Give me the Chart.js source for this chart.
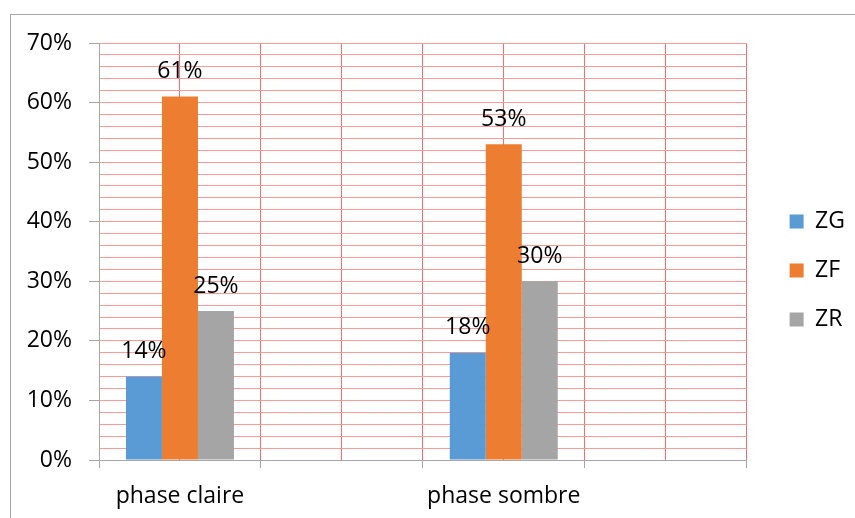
<!DOCTYPE html>
<html>
<head>
<meta charset="utf-8">
<script src="https://cdn.jsdelivr.net/npm/chart.js@4.4.1/dist/chart.umd.min.js"></script>
<style>
  html, body { margin: 0; padding: 0; background: #fff; }
  #wrap { position: relative; width: 855px; height: 518px; overflow: hidden; }
  #frame { position: absolute; left: 10px; top: 14px; width: 900px; height: 600px;
           border-left: 1px solid #a6a6a6; border-top: 1px solid #a6a6a6; pointer-events: none; }
</style>
</head>
<body>
<div id="wrap">
  <canvas id="myChart" width="855" height="518"></canvas>
  <div id="frame"></div>
</div>
<script>
// categories on the x axis (two empty slots keep the grid wide)
const categories = ['phase claire', '', 'phase sombre', ''];
// percentages per zone
const zg = [14, null, 18, null];
const zf = [61, null, 53, null];
const zr = [25, null, 30, null];

const txtFont = { family: '"Open Sans"', size: 23 };
Chart.defaults.font.family = '"Open Sans"';
Chart.defaults.font.size = 23;
Chart.defaults.color = '#000';

// writes "xx%" above every bar
const valueLabels = {
  id: 'valueLabels',
  afterDatasetsDraw(chart) {
    const ctx = chart.ctx;
    ctx.save();
    ctx.font = '23px "Open Sans"';
    ctx.fillStyle = '#000';
    ctx.textAlign = 'center';
    ctx.textBaseline = 'middle';
    chart.data.datasets.forEach((ds, i) => {
      chart.getDatasetMeta(i).data.forEach((bar, j) => {
        if (ds.data[j] == null) return;
        ctx.fillText(ds.data[j] + '%', bar.x, bar.y - 25);
      });
    });
    ctx.restore();
  }
};

var config = {
  type: 'bar',
  data: {
    labels: categories,
    datasets: [
      { label: 'ZG', data: zg, backgroundColor: '#5B9BD5' },
      { label: 'ZF', data: zf, backgroundColor: '#ED7D31' },
      { label: 'ZR', data: zr, backgroundColor: '#A5A5A5' }
    ]
  },
  options: {
    responsive: false,
    animation: false,
    categoryPercentage: 0.667,
    barPercentage: 1.0,
    layout: { padding: { left: 0, top: 23, right: 0, bottom: 0 } },
    plugins: {
      legend: {
        position: 'right',
        labels: { boxWidth: 14, boxHeight: 14, padding: 26, color: '#000', font: txtFont }
      },
      tooltip: { enabled: false }
    },
    scales: {
      x: {
        offset: true,
        grid: { offset: true, color: '#ff6a6a', tickColor: '#a6a6a6', tickLength: 8 },
        border: { color: '#a6a6a6' },
        ticks: { color: '#000', font: txtFont, padding: 15, maxRotation: 0, autoSkip: false },
        afterFit: s => { s.height = 58; }
      },
      // second category axis only for the lines through the middle of each slot
      x2: {
        type: 'category',
        position: 'top',
        offset: true,
        grid: { offset: false, color: '#ff6a6a', drawTicks: false },
        border: { display: false },
        ticks: { display: false },
        afterFit: s => { s.height = 20; }
      },
      y: {
        min: 0,
        max: 70,
        ticks: {
          stepSize: 2,
          autoSkip: false,
          padding: 17,
          color: '#000',
          font: txtFont,
          callback: v => (v % 10 === 0 ? v + '%' : '')
        },
        grid: {
          color: '#ff9a9a',
          tickLength: 10,
          tickColor: c => (c.tick && c.tick.value % 10 === 0 ? '#a6a6a6' : 'rgba(0,0,0,0)')
        },
        border: { color: '#a6a6a6' },
        afterFit: s => { s.width = 99; }
      },
      // empty spacer between plot and legend
      yr: {
        type: 'linear',
        position: 'right',
        grid: { drawOnChartArea: false, drawTicks: false },
        border: { display: false },
        ticks: { display: false },
        afterFit: s => { s.width = 17; }
      }
    }
  },
  plugins: [valueLabels]
};

const chart = document.getElementById('myChart');
var myChart = new Chart(chart, config);
</script>
</body>
</html>
